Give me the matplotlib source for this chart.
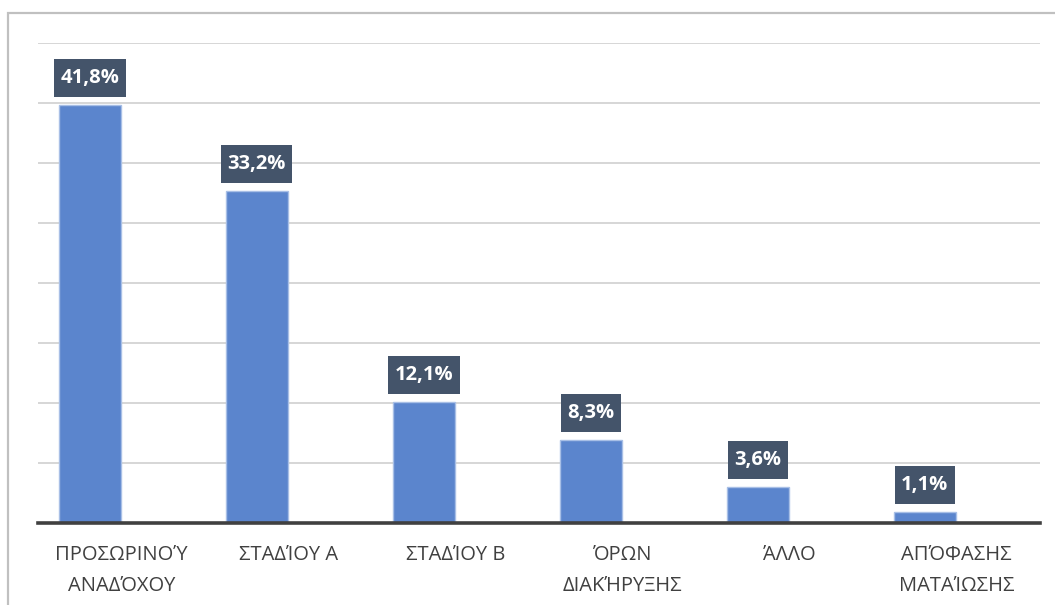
import matplotlib.pyplot as plt
from matplotlib.patches import Rectangle

categories = ['ΠΡΟΣΩΡΙΝΟΎ\nΑΝΑΔΌΧΟΥ', 'ΣΤΑΔΊΟΥ Α', 'ΣΤΑΔΊΟΥ Β',
              'ΌΡΩΝ\nΔΙΑΚΉΡΥΞΗΣ', 'ΆΛΛΟ', 'ΑΠΌΦΑΣΗΣ\nΜΑΤΑΊΩΣΗΣ']
values = [41.8, 33.2, 12.1, 8.3, 3.6, 1.1]
grid_ticks = [0, 6, 12, 18, 24, 30, 36, 42, 48]

plt.rcParams['font.family'] = ['Open Sans', 'DejaVu Sans']

W, H = 1055, 605
fig = plt.figure(figsize=(W / 100, H / 100), dpi=100)
ax = fig.add_axes([38 / W, 82 / H, 1002 / W, 480 / H])

x = list(range(len(values)))
# bars sit left of the category centre (like a clustered bar with an empty 2nd series)
shift = -0.19
bx = [xi + shift for xi in x]
ax.bar(bx, values, width=0.37, color='#5b85cd', edgecolor='#a8bfe6',
       linewidth=1, zorder=3)

ax.set_xlim(-0.5, len(values) - 0.5)
ax.set_ylim(0, 48)
ax.set_yticks(grid_ticks)
ax.yaxis.grid(True, color='#cfcfcf', linewidth=1.2, zorder=0)
ax.tick_params(axis='y', left=False, labelleft=False)
ax.tick_params(axis='x', bottom=False, pad=12)
ax.set_xticks(x)
ax.set_xticklabels(categories, fontsize=14.5, color='#404040', linespacing=1.75)
for lab in ax.get_xticklabels():
    lab.set_verticalalignment('top')

for s in ['top', 'right', 'left']:
    ax.spines[s].set_visible(False)
ax.spines['bottom'].set_color('#404040')
ax.spines['bottom'].set_linewidth(2.6)
ax.spines['bottom'].set_zorder(4)

for xi, v in zip(bx, values):
    ax.annotate(f'{v:.1f}%'.replace('.', ','), (xi, v), xytext=(0, 19.5),
                textcoords='offset points', ha='center', va='center',
                fontsize=14.5, fontweight='bold', color='white', zorder=5,
                bbox=dict(boxstyle='square,pad=0.32', fc='#44546a', ec='none',
                          mutation_aspect=1.45))

# outer chart frame (cropped on right and bottom)
fig.add_artist(Rectangle((8 / W, -0.1), 1.2, (H - 13) / H + 0.1,
                         transform=fig.transFigure, fill=False,
                         edgecolor='#c0c0c0', linewidth=1.6))

fig.savefig('out.png', dpi=100)
